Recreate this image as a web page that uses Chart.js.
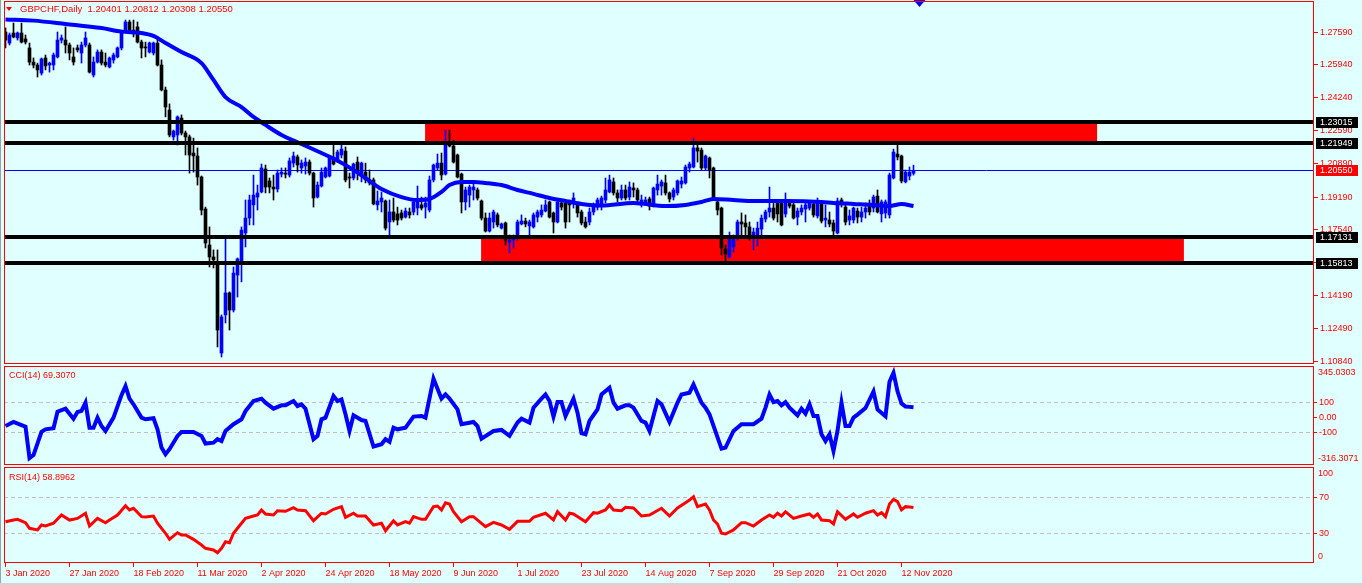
<!DOCTYPE html>
<html>
<head>
<meta charset="utf-8">
<title>GBPCHF,Daily</title>
<script src="https://cdn.jsdelivr.net/npm/chart.js@4.4.1/dist/chart.umd.min.js"></script>
<style>
  html, body { margin: 0; padding: 0; background: #E0FFFF; }
  body { width: 1362px; height: 585px; position: relative; overflow: hidden;
         font-family: "Liberation Sans", Arial, sans-serif; }
  canvas { position: absolute; left: 0; }
  #priceChart { top: 0; }
  #cciChart { top: 365px; }
  #rsiChart { top: 466px; }
  .lbl { position: absolute; color: #FF0000; font-size: 9px; line-height: 10px; white-space: pre; }
  #title { font-size: 9.5px; }
  #tri { position: absolute; left: 6px; top: 7px; width: 0; height: 0;
         border-left: 3px solid transparent; border-right: 3px solid transparent; border-top: 4px solid #FF0000; }
  #edgeL { position: absolute; left: 0; top: 0; width: 1px; height: 585px; background: #A0A0A0; }
  #edgeB { position: absolute; left: 0; top: 583px; width: 1362px; height: 2px; background: #D4D4D4; }
</style>
</head>
<body>
<canvas id="priceChart" width="1362" height="365"></canvas>
<canvas id="cciChart" width="1362" height="101"></canvas>
<canvas id="rsiChart" width="1362" height="119"></canvas>
<div id="tri"></div>
<div class="lbl" id="title" style="left:20px; top:4px;">GBPCHF,Daily  1.20401 1.20812 1.20308 1.20550</div>
<div class="lbl" style="left:9px; top:370px;">CCI(14) 69.3070</div>
<div class="lbl" style="left:9px; top:472px;">RSI(14) 58.8962</div>
<div id="edgeL"></div>
<div id="edgeB"></div>
<script>
// daily bars, 3 Jan 2020 .. 17 Nov 2020 (one entry per bar)
const opens = [
  1.2759,1.2703,1.2754,1.2729,1.2754,1.2724,1.2678,1.2606,1.2591,1.2550,
  1.2627,1.2591,1.2591,1.2632,1.2718,1.2718,1.2693,1.2632,1.2678,1.2652,
  1.2693,1.2693,1.2540,1.2606,1.2657,1.2606,1.2581,1.2617,1.2632,1.2678,
  1.2769,1.2810,1.2769,1.2785,1.2708,1.2683,1.2657,1.2652,1.2703,1.2591,
  1.2464,1.2362,1.2225,1.2235,1.2321,1.2245,1.2225,1.2143,1.2128,1.2021,
  1.1858,1.1675,1.1614,1.1588,1.1125,1.1319,1.1431,1.1344,1.1522,1.1588,
  1.1736,1.1812,1.1879,1.1919,1.1945,1.2062,1.2001,1.1970,1.1960,1.2036,
  1.2041,1.2031,1.2092,1.2123,1.2067,1.2077,1.2097,1.2041,1.1919,1.1975,
  1.2021,1.2026,1.2118,1.2108,1.2133,1.2153,1.2021,1.2016,1.2097,1.2036,
  1.2046,1.2006,1.2006,1.1879,1.1894,1.1899,1.1792,1.1843,1.1833,1.1838,
  1.1817,1.1843,1.1843,1.1863,1.1879,1.1868,1.1853,1.2006,1.2067,1.2092,
  1.2036,1.2194,1.2179,1.2133,1.2036,1.1894,1.1929,1.1955,1.1955,1.1899,
  1.1812,1.1746,1.1792,1.1828,1.1761,1.1787,1.1690,1.1700,1.1726,1.1782,
  1.1797,1.1772,1.1767,1.1817,1.1828,1.1848,1.1894,1.1838,1.1792,1.1889,
  1.1889,1.1894,1.1889,1.1884,1.1843,1.1792,1.1792,1.1843,1.1868,1.1873,
  1.1904,1.1945,1.1996,1.1940,1.1914,1.1955,1.1919,1.1965,1.1955,1.1879,
  1.1889,1.1909,1.1879,1.1955,1.1975,1.1991,1.1940,1.1919,1.1940,1.1985,
  1.1991,1.2067,1.2072,1.2169,1.2158,1.2067,1.2118,1.2067,1.1894,1.1863,
  1.1655,1.1614,1.1665,1.1710,1.1792,1.1787,1.1767,1.1726,1.1726,1.1756,
  1.1807,1.1843,1.1863,1.1894,1.1889,1.1833,1.1894,1.1879,1.1817,1.1843,
  1.1858,1.1863,1.1884,1.1823,1.1889,1.1802,1.1802,1.1787,1.1736,1.1904,
  1.1868,1.1802,1.1802,1.1848,1.1817,1.1843,1.1879,1.1863,1.1924,1.1833,
  1.1838,1.1828,1.2016,1.2138,1.2128,1.1996,1.2026,1.20401
];
const highs = [
  1.2780,1.2754,1.2805,1.2759,1.2805,1.2744,1.2703,1.2627,1.2601,1.2627,
  1.2642,1.2606,1.2652,1.2759,1.2744,1.2785,1.2703,1.2678,1.2693,1.2708,
  1.2759,1.2703,1.2632,1.2668,1.2668,1.2652,1.2632,1.2652,1.2683,1.2769,
  1.2820,1.2820,1.2820,1.2810,1.2718,1.2708,1.2708,1.2708,1.2718,1.2617,
  1.2479,1.2393,1.2260,1.2332,1.2337,1.2255,1.2235,1.2219,1.2169,1.2026,
  1.1868,1.1767,1.1650,1.1650,1.1319,1.1710,1.1436,1.1563,1.1609,1.1767,
  1.1904,1.1929,1.2031,1.1980,1.2087,1.2082,1.2016,1.2031,1.2057,1.2067,
  1.2067,1.2118,1.2148,1.2133,1.2108,1.2118,1.2108,1.2046,1.1996,1.2067,
  1.2072,1.2123,1.2194,1.2158,1.2194,1.2174,1.2041,1.2092,1.2123,1.2097,
  1.2092,1.2057,1.2016,1.1950,1.1945,1.1904,1.1904,1.1914,1.1868,1.1853,
  1.1863,1.1863,1.1904,1.1975,1.1919,1.1919,1.2026,1.2087,1.2138,1.2143,
  1.2260,1.2260,1.2209,1.2138,1.2041,1.1970,1.1980,1.1991,1.1965,1.1904,
  1.1838,1.1838,1.1853,1.1838,1.1787,1.1792,1.1726,1.1726,1.1802,1.1828,
  1.1812,1.1802,1.1838,1.1853,1.1879,1.1904,1.1899,1.1843,1.1904,1.1904,
  1.1894,1.1904,1.1940,1.1894,1.1853,1.1817,1.1863,1.1889,1.1914,1.1924,
  1.2016,1.2031,1.2016,1.1955,1.1980,1.1980,1.1996,1.1991,1.1965,1.1929,
  1.1919,1.1919,1.1970,1.2031,1.2006,1.2031,1.1945,1.1965,1.2006,1.2021,
  1.2082,1.2097,1.2219,1.2189,1.2169,1.2133,1.2123,1.2072,1.1904,1.1868,
  1.1675,1.1741,1.1726,1.1802,1.1838,1.1828,1.1792,1.1761,1.1792,1.1828,
  1.1853,1.1970,1.1904,1.1904,1.1904,1.1940,1.1904,1.1889,1.1863,1.1879,
  1.1889,1.1894,1.1894,1.1914,1.1894,1.1879,1.1843,1.1802,1.1914,1.1914,
  1.1879,1.1853,1.1868,1.1863,1.1868,1.1889,1.1904,1.1929,1.1955,1.1904,
  1.1904,1.2041,1.2163,1.2194,1.2133,1.2057,1.2072,1.20812
];
const lows = [
  1.2678,1.2693,1.2729,1.2718,1.2703,1.2698,1.2591,1.2576,1.2530,1.2540,
  1.2566,1.2555,1.2566,1.2627,1.2703,1.2652,1.2617,1.2591,1.2657,1.2601,
  1.2683,1.2550,1.2530,1.2601,1.2591,1.2581,1.2576,1.2601,1.2627,1.2668,
  1.2759,1.2754,1.2734,1.2703,1.2627,1.2632,1.2652,1.2642,1.2586,1.2459,
  1.2327,1.2225,1.2209,1.2184,1.2235,1.2133,1.2041,1.2046,1.1980,1.1828,
  1.1660,1.1563,1.1558,1.1156,1.1105,1.1278,1.1242,1.1334,1.1410,1.1487,
  1.1665,1.1777,1.1777,1.1853,1.1940,1.1940,1.1940,1.1904,1.1945,1.2021,
  1.2016,1.2021,1.2072,1.2046,1.2041,1.2036,1.2031,1.1868,1.1914,1.1970,
  1.2016,1.2021,1.2082,1.2097,1.2118,1.1996,1.1965,1.2006,1.2006,1.1996,
  1.1991,1.1980,1.1879,1.1853,1.1843,1.1751,1.1726,1.1792,1.1777,1.1802,
  1.1812,1.1812,1.1828,1.1828,1.1853,1.1812,1.1843,1.1996,1.2057,1.2006,
  1.2031,1.2174,1.2092,1.2016,1.1838,1.1853,1.1868,1.1904,1.1904,1.1802,
  1.1741,1.1741,1.1761,1.1767,1.1756,1.1675,1.1634,1.1660,1.1700,1.1777,
  1.1767,1.1726,1.1761,1.1792,1.1817,1.1843,1.1812,1.1736,1.1787,1.1853,
  1.1761,1.1792,1.1863,1.1817,1.1777,1.1761,1.1777,1.1828,1.1853,1.1853,
  1.1889,1.1940,1.1929,1.1894,1.1904,1.1904,1.1904,1.1919,1.1889,1.1868,
  1.1879,1.1853,1.1868,1.1929,1.1929,1.1929,1.1894,1.1904,1.1929,1.1965,
  1.1985,1.2046,1.2067,1.2097,1.2057,1.2057,1.2016,1.1904,1.1828,1.1624,
  1.1588,1.1609,1.1639,1.1700,1.1726,1.1710,1.1700,1.1650,1.1670,1.1726,
  1.1792,1.1817,1.1802,1.1792,1.1772,1.1817,1.1863,1.1807,1.1777,1.1828,
  1.1792,1.1853,1.1817,1.1812,1.1787,1.1767,1.1767,1.1726,1.1731,1.1868,
  1.1777,1.1777,1.1787,1.1787,1.1792,1.1812,1.1828,1.1843,1.1838,1.1792,
  1.1812,1.1812,1.2011,1.2108,1.1991,1.1991,1.2006,1.20308
];
const closes = [
  1.2718,1.2744,1.2734,1.2754,1.2708,1.2708,1.2606,1.2591,1.2566,1.2622,
  1.2586,1.2601,1.2642,1.2718,1.2729,1.2693,1.2652,1.2606,1.2668,1.2693,
  1.2729,1.2555,1.2606,1.2657,1.2601,1.2591,1.2627,1.2642,1.2678,1.2759,
  1.2810,1.2759,1.2754,1.2708,1.2678,1.2678,1.2703,1.2703,1.2591,1.2464,
  1.2377,1.2235,1.2255,1.2327,1.2245,1.2225,1.2133,1.2128,1.2021,1.1853,
  1.1685,1.1614,1.1599,1.1242,1.1309,1.1431,1.1344,1.1532,1.1604,1.1751,
  1.1812,1.1904,1.1929,1.1940,1.2067,1.1970,1.1970,1.1960,1.2041,1.2046,
  1.2036,1.2103,1.2128,1.2082,1.2092,1.2097,1.2041,1.1914,1.1980,1.2046,
  1.2067,1.2123,1.2087,1.2148,1.2163,1.2006,1.2016,1.2087,1.2046,1.2092,
  1.2006,1.1991,1.1884,1.1899,1.1914,1.1761,1.1843,1.1802,1.1802,1.1812,
  1.1848,1.1828,1.1894,1.1899,1.1863,1.1889,1.2006,1.2082,1.2092,1.2031,
  1.2194,1.2179,1.2097,1.2021,1.1894,1.1955,1.1970,1.1970,1.1914,1.1812,
  1.1746,1.1812,1.1843,1.1777,1.1782,1.1700,1.1700,1.1710,1.1792,1.1797,
  1.1782,1.1792,1.1828,1.1843,1.1853,1.1879,1.1817,1.1792,1.1894,1.1868,
  1.1792,1.1879,1.1914,1.1838,1.1787,1.1767,1.1843,1.1868,1.1904,1.1914,
  1.1955,1.2006,1.1940,1.1914,1.1955,1.1914,1.1970,1.1955,1.1904,1.1904,
  1.1904,1.1873,1.1965,1.1985,1.1996,1.1940,1.1909,1.1955,1.2001,1.2001,
  1.2072,1.2087,1.2169,1.2153,1.2067,1.2128,1.2057,1.1914,1.1853,1.1660,
  1.1629,1.1710,1.1710,1.1792,1.1782,1.1767,1.1726,1.1741,1.1761,1.1812,
  1.1843,1.1863,1.1812,1.1833,1.1777,1.1894,1.1873,1.1812,1.1848,1.1863,
  1.1879,1.1889,1.1828,1.1889,1.1797,1.1812,1.1782,1.1746,1.1899,1.1889,
  1.1792,1.1823,1.1863,1.1817,1.1843,1.1863,1.1843,1.1919,1.1843,1.1894,
  1.1894,1.2031,1.2148,1.2123,1.2001,1.2046,1.2046,1.20550
];

// moving average: [bar, value]
const maPoints = [
  [0,1.2823],[7,1.2817],[15,1.2800],[24,1.2779],[29,1.2761],[34,1.2754],[37,1.2739],
  [40,1.2703],[44,1.2657],[49,1.2601],[52,1.2515],[55,1.2428],[59,1.2377],[62,1.2327],
  [65,1.2286],[69,1.2235],[74,1.2189],[79,1.2143],[82,1.2115],[87,1.2057],[90,1.2016],
  [94,1.1960],[99,1.1919],[103,1.1904],[106,1.1909],[109,1.1945],[111,1.1980],[114,1.1996],
  [117,1.1996],[120,1.1991],[124,1.1980],[128,1.1955],[132,1.1935],[136,1.1914],[140,1.1899],
  [144,1.1884],[149,1.1876],[157,1.1889],[165,1.1873],[170,1.1879],[174,1.1894],[177,1.1909],
  [182,1.1904],[187,1.1899],[195,1.1899],[204,1.1894],[207,1.1889],[212,1.1884],[217,1.1879],
  [221,1.1873],[224,1.1884],[227,1.1873]
];

// CCI(14): [bar, value]
const cciPoints = [
  [0,-56],[2,-29],[4,-50],[5,-60],[6,-270],[7,-250],[9,-95],[10,-78],[12,-70],[13,40],
  [15,60],[17,-7],[18,38],[19,45],[20,100],[21,-67],[22,-67],[23,0],[24,-56],[25,-89],
  [27,0],[29,150],[30,211],[31,127],[32,89],[34,0],[35,-11],[37,-4],[38,-78],[39,-200],
  [40,-245],[41,-211],[43,-122],[44,-96],[47,-96],[49,-122],[50,-173],[52,-167],[53,-144],[54,-156],
  [55,-89],[57,-44],[59,-11],[60,44],[62,111],[64,127],[65,100],[67,60],[69,82],[70,82],
  [72,111],[73,78],[74,89],[75,60],[77,-144],[78,-122],[79,-11],[80,0],[82,144],[83,111],
  [84,122],[85,22],[86,-89],[87,16],[89,-16],[90,-22],[92,-193],[94,-178],[95,-144],[96,-162],
  [97,-67],[98,-78],[100,-67],[102,7],[104,11],[105,0],[107,260],[109,127],[110,155],[111,128],
  [113,55],[114,-44],[117,-29],[118,-56],[119,-140],[122,-89],[124,-82],[126,-122],[128,-33],[129,-7],
  [131,-33],[132,67],[134,127],[135,155],[136,111],[137,7],[138,104],[139,104],[140,11],[142,127],
  [143,33],[144,-104],[145,-111],[146,-22],[148,55],[149,155],[151,200],[152,100],[153,60],[155,82],
  [156,82],[157,67],[159,-22],[160,-33],[161,-89],[163,111],[164,89],[166,-29],[168,100],[169,155],
  [171,167],[172,222],[174,100],[175,67],[176,22],[179,-207],[180,-200],[182,-89],[184,-44],[187,-44],
  [189,-7],[190,67],[191,155],[192,104],[193,111],[194,82],[195,104],[196,67],[198,16],[199,60],
  [200,27],[201,89],[202,11],[203,11],[204,-111],[205,-156],[206,-111],[207,-222],[208,-89],[209,100],
  [210,-56],[211,-56],[212,0],[213,20],[215,64],[217,175],[218,55],[220,9],[221,240],[222,299],
  [223,176],[224,95],[225,74],[226,72],[227,69.31]
];

// RSI(14): [bar, value]
const rsiPoints = [
  [0,43.4],[2,45.2],[3,46],[5,42.3],[6,36.2],[8,34.4],[9,39.8],[10,38.7],[12,41.7],[14,50.7],
  [16,45.2],[18,47],[20,52.6],[21,38.7],[23,47],[25,42.3],[26,45.2],[28,50.7],[30,60.8],[31,56.2],
  [32,58],[34,48.9],[35,48.5],[37,49.6],[38,41.7],[40,30.8],[41,24.2],[43,31.4],[44,28.9],[45,28.9],
  [47,24.2],[49,18],[50,14.4],[52,12.6],[53,9.6],[54,14.4],[55,21.6],[56,20.5],[57,30.8],[58,36.2],
  [60,47],[62,49.6],[63,50.7],[64,56.2],[65,51.8],[67,50.7],[68,55.4],[70,54.7],[72,58.7],[73,56.2],
  [75,55.4],[77,44.5],[79,52.6],[80,51.8],[82,56.9],[84,59.8],[85,48.2],[87,52.6],[88,49.6],[90,49.6],
  [92,39.8],[94,41.7],[95,33.6],[97,44.5],[98,39.8],[100,43.4],[101,41.7],[102,48.9],[104,46],[105,46],
  [107,59.8],[108,60.5],[109,56.2],[110,64.1],[111,62.7],[112,54.3],[114,43.4],[116,48.9],[117,48.9],[120,38],
  [122,42.7],[124,39.8],[126,35.1],[128,43.8],[131,43.8],[132,48.2],[135,52.6],[137,45.3],[138,54.3],[140,45.3],
  [141,52.6],[142,51.8],[145,43.4],[147,53.2],[148,52.6],[150,56.2],[151,61.6],[152,56.2],[154,55.4],[155,59.1],
  [157,58.4],[159,49.6],[161,50.7],[164,58],[166,49.6],[168,58.4],[170,64.1],[171,67],[172,70.7],[173,59.8],
  [175,62.7],[176,56.2],[177,45.3],[178,40.9],[179,30.8],[180,30],[182,34.4],[184,42.3],[185,42.3],[187,38.7],
  [189,45.3],[191,50.7],[192,48.2],[193,52.6],[194,49.6],[195,54.3],[197,47],[199,49.6],[201,51.8],[202,48.2],
  [203,51.8],[204,45.3],[206,44.5],[207,40.9],[208,54.3],[210,46],[212,51.8],[213,48.2],[215,52.6],[217,55.4],
  [218,50.7],[219,53.2],[220,48.9],[221,62.7],[222,67.8],[223,65.3],[224,56.2],[225,59.8],[226,59.5],[227,58.9]
];

// horizontal levels and boxes drawn on the price window
const levelPrices = [1.23015, 1.21949, 1.17131, 1.15813];
const bidPrice = 1.20550;
// [fromBar, toBar, top price, bottom price]
const zones = [
  [104.9, 272.9, 1.23015, 1.21949],
  [118.9, 294.6, 1.17131, 1.15813]
];

// axes
const priceTicks = [1.27590, 1.25940, 1.24240, 1.22590, 1.20890, 1.19190, 1.17540, 1.15840, 1.14190, 1.12490, 1.10840];
const cciTicks = [100, 0, -100];
const rsiTicks = [70, 30];
const dateBars = [0, 16, 32, 48, 64, 80, 96, 112, 128, 144, 160, 176, 192, 208, 224];
const dateLabels = ['3 Jan 2020', '27 Jan 2020', '18 Feb 2020', '11 Mar 2020', '2 Apr 2020', '24 Apr 2020',
  '18 May 2020', '9 Jun 2020', '1 Jul 2020', '23 Jul 2020', '14 Aug 2020', '7 Sep 2020',
  '29 Sep 2020', '21 Oct 2020', '12 Nov 2020'];

const RED = '#FF0000';
const FONT = '"Liberation Sans", Arial, sans-serif';
Chart.defaults.font.family = FONT;
Chart.defaults.font.size = 9;
Chart.defaults.color = RED;

const X_MIN = -0.375, X_MAX = 327.125;

function xAxis(show) {
  return {
    type: 'linear', min: X_MIN, max: X_MAX, offset: false, display: show,
    afterBuildTicks: s => { s.ticks = dateBars.map(v => ({ value: v })); },
    afterFit: s => {
      if (show) s.height = 22;
      s.paddingLeft = 0; s.paddingRight = 0;
    },
    border: { display: false },
    grid: { drawOnChartArea: false, tickLength: 4, tickColor: RED },
    ticks: { align: 'start', maxRotation: 0, autoSkip: false, padding: 1, color: RED,
             callback: (v, i) => dateLabels[i] }
  };
}

function yAxis(min, max, ticks, fmt, levels, pad) {
  return {
    position: 'right', min: min, max: max,
    afterFit: s => { s.width = 48; s.paddingTop = 0; s.paddingBottom = 0; },
    afterBuildTicks: s => { s.ticks = ticks.map(v => ({ value: v })); },
    border: { display: false, dash: [4, 3] },
    grid: {
      drawOnChartArea: levels,
      color: c => (levels && c.tick && c.tick.value !== 0) ? '#C0C0C0' : 'rgba(0,0,0,0)',
      tickLength: pad, tickColor: RED
    },
    ticks: { color: RED, padding: 2, callback: fmt }
  };
}

// red frame round each window + extreme labels on indicator windows
const framePlugin = {
  id: 'frame',
  afterDraw(chart) {
    const { ctx, chartArea: a } = chart;
    ctx.save();
    ctx.strokeStyle = RED;
    ctx.lineWidth = 1;
    ctx.strokeRect(a.left + 0.5, a.top + 0.5, a.right - a.left - 1, a.bottom - a.top - 1);
    const edge = chart.options.plugins.frame || {};
    ctx.fillStyle = RED;
    ctx.font = '9px ' + FONT;
    ctx.textBaseline = 'middle';
    if (edge.top) ctx.fillText(edge.top, a.right + 4, a.top + 7);
    if (edge.bottom) ctx.fillText(edge.bottom, a.right + 4, a.bottom - 6);
    ctx.restore();
  }
};

// zones, bid line, level lines and price tags for the main window
const overlayPlugin = {
  id: 'overlay',
  beforeDatasetsDraw(chart) {
    const { ctx, chartArea: a, scales: { x, y } } = chart;
    ctx.save();
    ctx.beginPath();
    ctx.rect(a.left, a.top, a.right - a.left, a.bottom - a.top);
    ctx.clip();
    ctx.fillStyle = RED;
    zones.forEach(z => {
      const x0 = x.getPixelForValue(z[0]), x1 = x.getPixelForValue(z[1]);
      const y0 = y.getPixelForValue(z[2]), y1 = y.getPixelForValue(z[3]);
      ctx.fillRect(x0, y0, x1 - x0, y1 - y0);
    });
    const yb = Math.round(y.getPixelForValue(bidPrice)) + 0.5;
    ctx.strokeStyle = '#0000FF';
    ctx.lineWidth = 1;
    ctx.beginPath();
    ctx.moveTo(a.left, yb);
    ctx.lineTo(a.right, yb);
    ctx.stroke();
    ctx.restore();
  },
  afterDatasetsDraw(chart) {
    const { ctx, chartArea: a, scales: { y } } = chart;
    ctx.save();
    ctx.strokeStyle = '#000000';
    ctx.lineWidth = 4;
    levelPrices.forEach(p => {
      const yy = Math.round(y.getPixelForValue(p));
      ctx.beginPath();
      ctx.moveTo(a.left, yy);
      ctx.lineTo(a.right, yy);
      ctx.stroke();
    });
    ctx.restore();
  },
  afterDraw(chart) {
    const { ctx, chartArea: a, scales: { x, y } } = chart;
    ctx.save();
    ctx.font = '9px ' + FONT;
    ctx.textBaseline = 'middle';
    const tag = (p, bg) => {
      const yy = Math.round(y.getPixelForValue(p));
      ctx.fillStyle = bg;
      ctx.fillRect(a.right + 2, yy - 5, 42, 11);
      ctx.fillStyle = '#FFFFFF';
      ctx.fillText(p.toFixed(5), a.right + 6, yy + 0.5);
    };
    levelPrices.forEach(p => tag(p, '#000000'));
    tag(bidPrice, RED);
    // chart shift marker
    const sx = x.getPixelForValue(228.5);
    ctx.fillStyle = '#0000FF';
    ctx.beginPath();
    ctx.moveTo(sx - 6, 0);
    ctx.lineTo(sx + 6, 0);
    ctx.lineTo(sx, 7);
    ctx.closePath();
    ctx.fill();
    ctx.restore();
  }
};

const candleColors = opens.map((o, i) => closes[i] >= o ? '#0000FF' : '#000000');

new Chart(document.getElementById('priceChart'), {
  type: 'bar',
  data: {
    datasets: [
      {
        type: 'line', label: 'MA',
        data: maPoints.map(p => ({ x: p[0], y: p[1] })),
        borderColor: '#0000FF', borderWidth: 4, pointRadius: 0,
        cubicInterpolationMode: 'monotone', order: 0
      },
      {
        label: 'body',
        data: opens.map((o, i) => ({ x: i, y: [o, closes[i]] })),
        backgroundColor: candleColors, barThickness: 3, minBarLength: 1,
        grouped: false, order: 1
      },
      {
        label: 'wick',
        data: opens.map((o, i) => ({ x: i, y: [lows[i], highs[i]] })),
        backgroundColor: candleColors, barThickness: 1,
        grouped: false, order: 2
      }
    ]
  },
  options: {
    responsive: false, animation: false, events: [],
    layout: { padding: { left: 4, top: 1, bottom: 1, right: 0 } },
    plugins: { legend: { display: false }, tooltip: { enabled: false } },
    scales: {
      x: xAxis(false),
      y: yAxis(1.10692, 1.29169, priceTicks, v => v.toFixed(5), false, 4)
    }
  },
  plugins: [overlayPlugin, framePlugin]
});

new Chart(document.getElementById('cciChart'), {
  type: 'line',
  data: {
    datasets: [{
      label: 'CCI(14)',
      data: cciPoints.map(p => ({ x: p[0], y: p[1] })),
      borderColor: '#0000FF', borderWidth: 4, pointRadius: 0, tension: 0
    }]
  },
  options: {
    responsive: false, animation: false, events: [],
    layout: { padding: { left: 4, top: 1, bottom: 1, right: 0 } },
    plugins: { legend: { display: false }, tooltip: { enabled: false },
               frame: { top: '345.0303', bottom: '-316.3071' } },
    scales: {
      x: xAxis(false),
      y: yAxis(-316.3071, 345.0303, cciTicks, v => v === 0 ? '0.00' : String(v), true, 3)
    }
  },
  plugins: [framePlugin]
});

new Chart(document.getElementById('rsiChart'), {
  type: 'line',
  data: {
    datasets: [{
      label: 'RSI(14)',
      data: rsiPoints.map(p => ({ x: p[0], y: p[1] })),
      borderColor: RED, borderWidth: 3, pointRadius: 0, tension: 0
    }]
  },
  options: {
    responsive: false, animation: false, events: [],
    layout: { padding: { left: 4, top: 1, bottom: 0, right: 0 } },
    plugins: { legend: { display: false }, tooltip: { enabled: false },
               frame: { top: '100', bottom: '0' } },
    scales: {
      x: xAxis(true),
      y: yAxis(-1.6, 103, rsiTicks, v => String(v), true, 3)
    }
  },
  plugins: [framePlugin]
});
</script>
</body>
</html>
